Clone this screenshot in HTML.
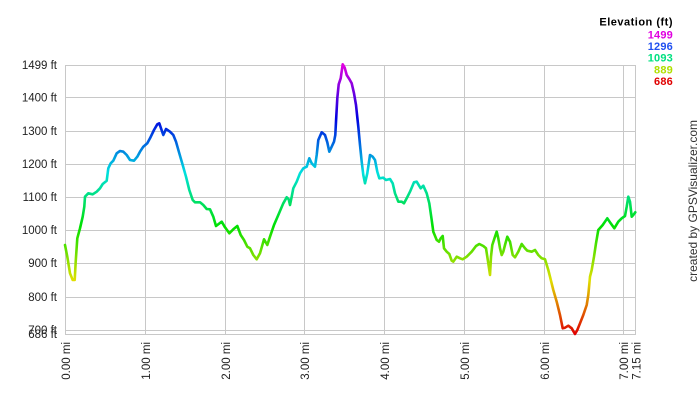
<!DOCTYPE html>
<html><head><meta charset="utf-8"><style>
html,body{margin:0;padding:0;background:#fff;}
svg{display:block;}
text{font-family:"Liberation Sans",Arial,sans-serif;}
</style></head><body>
<svg width="700" height="400" viewBox="0 0 700 400" xmlns="http://www.w3.org/2000/svg">
<defs>
<linearGradient id="g" gradientUnits="userSpaceOnUse" x1="0" y1="65" x2="0" y2="334">
<stop offset="0" stop-color="#e000e0"/>
<stop offset="0.2" stop-color="#0000e0"/>
<stop offset="0.4" stop-color="#00e0e0"/>
<stop offset="0.6" stop-color="#00e000"/>
<stop offset="0.8" stop-color="#e0e000"/>
<stop offset="1" stop-color="#e00000"/>
</linearGradient>
</defs>
<rect width="700" height="400" fill="#fff"/>
<g stroke="#c8c8c8" stroke-width="1" shape-rendering="crispEdges">
<line x1="65" y1="65.5" x2="636" y2="65.5"/>
<line x1="65" y1="97.5" x2="636" y2="97.5"/>
<line x1="65" y1="131.5" x2="636" y2="131.5"/>
<line x1="65" y1="164.5" x2="636" y2="164.5"/>
<line x1="65" y1="197.5" x2="636" y2="197.5"/>
<line x1="65" y1="230.5" x2="636" y2="230.5"/>
<line x1="65" y1="263.5" x2="636" y2="263.5"/>
<line x1="65" y1="297.5" x2="636" y2="297.5"/>
<line x1="65" y1="330.5" x2="636" y2="330.5"/>
<line x1="65" y1="334.5" x2="636" y2="334.5"/>
<line x1="65.5" y1="65" x2="65.5" y2="335"/>
<line x1="145.5" y1="65" x2="145.5" y2="335"/>
<line x1="225.5" y1="65" x2="225.5" y2="335"/>
<line x1="304.5" y1="65" x2="304.5" y2="335"/>
<line x1="384.5" y1="65" x2="384.5" y2="335"/>
<line x1="464.5" y1="65" x2="464.5" y2="335"/>
<line x1="544.5" y1="65" x2="544.5" y2="335"/>
<line x1="623.5" y1="65" x2="623.5" y2="335"/>
<line x1="635.5" y1="65" x2="635.5" y2="335"/>
</g>
<polyline fill="none" stroke="url(#g)" stroke-width="2.6" stroke-linejoin="round" stroke-linecap="round" points="
65,245 67.3,256.7 70,273.3 72.7,280 74.7,280 75.7,261.7 77.3,238.3 80,228.3 82.7,216.7 84.3,206.7 85,196.7 88.3,193.3 92.7,194.3 96.7,191.7 100,188.3 102.7,184 106.7,180.7 108.3,168.3 110.7,163.3 113.3,160.7 116.7,153.3 120,151 123.3,151.7 126.7,155 130,160 134,160.7 137.3,156.7 140,151.7 143.3,146.7 147.3,143.3 150,138.3 154,130 157.3,124.3 159.3,123.3 161,128.3 163.3,135 166,129 170,131.7 173.3,135 176,141.7 179.3,153.3 182.7,165 186,176.7 189.3,190 192.7,200 195,202.3 200,202.3 203.3,205 206.7,209 210,209.3
213.3,216.7 216,226 221.7,221.7 225,227.3 229.3,233.3 233.3,229.3 237.3,226 240.7,235 244,240 247.3,246.7 250,248.3 253.3,255 256.7,259.3 260,253.3 264,239.3 267.3,245 270,236.7 274,225 278.3,215 283.3,203.3 286.7,197.3 288.7,199.3 290,205 291.7,196.7 293.3,188.3 296.7,181.7 300,173.3 303.3,168.3 306.7,166.7 309.3,158.3 311.7,163.3 315,166.7 316.7,155 318.3,140
321.7,132.3 325,135 327.3,142.3 329.3,151.7 331.7,146.7 334,141.7 335.3,135 336,121.7 337.3,98.3 338.7,84.3 340.7,78.3 342.7,64.3 344.7,67.7 346.7,75 349.3,79 351.7,83.3 354,93.3 356,105 358.3,126.7 360,145 361.7,161.7 363.3,175 365,183.3 367.3,173.3 370,155 372.7,156.7 375,160 377.3,171.7 379.3,178.3 383.3,177.7 386,180 390,179 392.7,183.3 395,193.3 398.3,201.7 401.7,201.7 404,203.3 406.7,198.3 410,191.7 414,182.3 416.7,181.7 420.7,188.3 423.3,185.7 426.7,193.3 429.3,203.3 431.7,220 433.3,231.7 436.7,240 439,241.7 440.7,238.3 442.7,236 444,248.3 446.7,251.7 449.3,254 451.7,260.7 453.3,261.7 456.7,256.7 460,258.3 462.7,259.3 466.7,256.7 471.7,251.7 476,246 479.3,244 483.3,246 486,248.3 488.3,263.3 490,275 491,256.7 492.3,245 495,236.7 496.7,231.7 498.3,238.3 500,248.3 501.7,255 503.3,251.7 505,245 507.3,236.7 510,241.7 512.7,255 515,257.3 518.3,251.7 521.7,244 525,248.3 527.3,250.7 531.7,251.7 535,250 538.3,255 541.7,258.3 545,259.3 548.3,270
550,276.7 553.3,290 556.7,301.7 560,315 562.7,328.3 565,327.7 568.3,325.7 571.7,328.3 575,334 577.3,330 580,323.3 583.3,315 586.7,305 588.3,295 590,276.7 591.7,270 594,256.7 596,243.3 598.3,230 602.7,225 607.3,218.3 610.7,223.3 614.3,228.3 618.3,221.7 621.7,218.3 625,216 626.7,206.7 628.3,196.7 630,201.7 631.7,216.7 633.3,215 635.3,212.3"/>
<g font-size="11.5" fill="#222" text-anchor="end">
<text x="57" y="69">1499 ft</text>
<text x="57" y="101.5">1400 ft</text>
<text x="57" y="135">1300 ft</text>
<text x="57" y="168">1200 ft</text>
<text x="57" y="201">1100 ft</text>
<text x="57" y="234">1000 ft</text>
<text x="57" y="267">900 ft</text>
<text x="57" y="301">800 ft</text>
<text x="57" y="334">700 ft</text>
<text x="57" y="338">686 ft</text>
</g>
<g font-size="11.5" fill="#222" text-anchor="end">
<text transform="translate(70,342) rotate(-90)">0.00 mi</text>
<text transform="translate(150,342) rotate(-90)">1.00 mi</text>
<text transform="translate(230,342) rotate(-90)">2.00 mi</text>
<text transform="translate(309,342) rotate(-90)">3.00 mi</text>
<text transform="translate(389,342) rotate(-90)">4.00 mi</text>
<text transform="translate(469,342) rotate(-90)">5.00 mi</text>
<text transform="translate(549,342) rotate(-90)">6.00 mi</text>
<text transform="translate(628,342) rotate(-90)">7.00 mi</text>
<text transform="translate(640.5,342) rotate(-90)">7.15 mi</text>
</g>
<text x="673" y="25.5" font-size="11" font-weight="bold" fill="#000" text-anchor="end" letter-spacing="0.5">Elevation (ft)</text>
<g font-size="11" font-weight="bold" text-anchor="end" letter-spacing="0.2">
<text x="673" y="38.3" fill="#e000e0">1499</text>
<text x="673" y="50" fill="#2050f0">1296</text>
<text x="673" y="61.7" fill="#00e080">1093</text>
<text x="673" y="73.3" fill="#b0e000">889</text>
<text x="673" y="85" fill="#e00000">686</text>
</g>
<text transform="translate(697,120) rotate(-90)" font-size="12" fill="#333" text-anchor="end">created by GPSVisualizer.com</text>
</svg>
</body></html>
